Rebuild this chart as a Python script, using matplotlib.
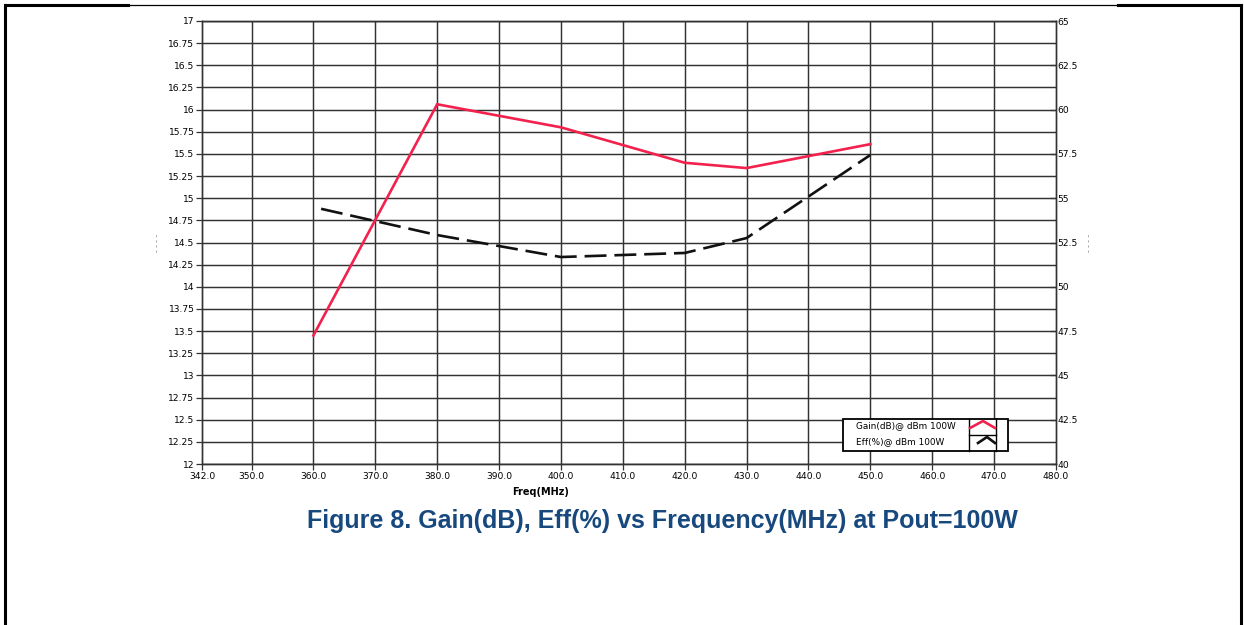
import matplotlib
matplotlib.use("Agg")
import matplotlib.pyplot as plt
from matplotlib.lines import Line2D
from matplotlib import font_manager
import numpy as np

# ---- data ----
freq = [360, 380, 400, 420, 430, 450]
gain_db = [13.45, 16.06, 15.80, 15.40, 15.34, 15.61]
eff_pct = [54.5, 52.92, 51.68, 51.91, 52.75, 57.44]

gain_label = "Gain(dB)@ dBm 100W"
eff_label = "Eff(%)@ dBm 100W"
x_ticks = [342, 350, 360, 370, 380, 390, 400, 410, 420, 430, 440, 450, 460, 470, 480]
left_ticks = list(np.arange(12.0, 17.01, 0.25))
right_ticks = list(np.arange(40.0, 65.01, 2.5))
title = "Figure 8. Gain(dB), Eff(%) vs Frequency(MHz) at Pout=100W"
xlabel = "Freq(MHz)"

title_fp = None
for f in font_manager.findSystemFonts():
    if f.endswith("LiberationSans-Bold.ttf"):
        title_fp = font_manager.FontProperties(fname=f, size=18.0)
        break
if title_fp is None:
    title_fp = font_manager.FontProperties(family="DejaVu Sans", weight="bold", size=16)

W, H = 1244, 625
fig = plt.figure(figsize=(W / 100, H / 100), dpi=100)
fig.patch.set_facecolor("white")

L, R, T, B = 202, 1056, 21, 464
ax = fig.add_axes([L / W, 1 - B / H, (R - L) / W, (B - T) / H])
ax2 = ax.twinx()

grid_c = "#333333"
fs = 6.6

ax.set_xlim(342, 480)
ax.set_ylim(12, 17)
ax2.set_ylim(40, 65)

ax.set_xticks(x_ticks)
ax.set_xticklabels([f"{v:.1f}" for v in x_ticks], fontsize=fs)
ax.set_yticks(left_ticks)
ax.set_yticklabels([f"{v:g}" for v in left_ticks], fontsize=fs)
ax2.set_yticks(right_ticks)
ax2.set_yticklabels([f"{v:g}" for v in right_ticks], fontsize=fs)

ax.tick_params(axis="both", direction="out", length=4, width=0.9, color=grid_c, pad=1.5)
ax2.tick_params(axis="y", direction="in", length=4, width=0.9, color=grid_c, pad=1)

# grid
for v in left_ticks:
    ax.axhline(v, color=grid_c, lw=1.05, zorder=1)
for v in x_ticks[1:-1]:
    ax.axvline(v, color=grid_c, lw=1.05, zorder=1)

for a in (ax, ax2):
    for s in a.spines.values():
        s.set_color(grid_c)
        s.set_linewidth(1.0)

# data lines
ax.plot(freq, gain_db, color="#f2214d", lw=1.9, zorder=5, solid_joinstyle="miter")
ax2.plot(freq, eff_pct, color="#111111", lw=1.9, zorder=5,
         linestyle=(8.3, (8.3, 3.0)))

# y-label placeholders (dashed marks)
fig.text(158 / W, 1 - 243 / H, "- - - -", rotation=90, fontsize=5.5, color="#888888",
         ha="center", va="center")
fig.text(1090 / W, 1 - 243 / H, "- - - -", rotation=90, fontsize=5.5, color="#888888",
         ha="center", va="center")

# x label and title
fig.text(541 / W, 1 - 492 / H, xlabel, fontsize=7, fontweight="bold", ha="center", va="center")
fig.text(662 / W, 1 - 521 / H, title, fontproperties=title_fp, color="#17497f",
         ha="center", va="center")

# legend (manual box)
def ax_xy(px, py):
    return (px - L) / (R - L), (B - py) / (B - T)

x0, y0 = ax_xy(843, 451)
x1, y1 = ax_xy(1008, 419)
rect = plt.Rectangle((x0, y0), x1 - x0, y1 - y0, transform=ax.transAxes,
                     facecolor="white", edgecolor="black", lw=1.3, zorder=10)
ax.add_patch(rect)
cx0, _ = ax_xy(969, 0)
cx1, _ = ax_xy(996, 0)
ax.add_line(Line2D([cx0, cx0], [y0, y1], transform=ax.transAxes, color="black", lw=1.0, zorder=11))
ax.add_line(Line2D([cx1, cx1], [y0, y1], transform=ax.transAxes, color="black", lw=1.0, zorder=11))
_, my = ax_xy(0, 435)
ax.add_line(Line2D([cx0, cx1], [my, my], transform=ax.transAxes, color="black", lw=1.0, zorder=11))
tx, ty1 = ax_xy(856, 426)
_, ty2 = ax_xy(856, 442)
ax.text(tx, ty1, gain_label, transform=ax.transAxes, fontsize=6.4, va="center", ha="left", zorder=12)
ax.text(tx, ty2, eff_label, transform=ax.transAxes, fontsize=6.4, va="center", ha="left", zorder=12)
pts_r = [ax_xy(970, 428), ax_xy(983, 421), ax_xy(995, 428)]
ax.add_line(Line2D([p[0] for p in pts_r], [p[1] for p in pts_r], transform=ax.transAxes,
                   color="#f2214d", lw=1.9, zorder=12))
pts_k = [ax_xy(978, 443), ax_xy(987, 437), ax_xy(995, 443)]
ax.add_line(Line2D([p[0] for p in pts_k], [p[1] for p in pts_k], transform=ax.transAxes,
                   color="#111111", lw=1.9, zorder=12))

# page frame
def fl(xs, ys, lw):
    fig.add_artist(Line2D([x / W for x in xs], [1 - y / H for y in ys], color="black", lw=lw))

fl([5, 5], [5, 625], 2.2)
fl([1241, 1241], [5, 625], 2.2)
fl([5, 128], [5, 5], 2.2)
fl([128, 1118], [5, 5], 0.9)
fl([1118, 1241], [5, 5], 2.2)

fig.savefig("out.png", dpi=100, facecolor="white")
